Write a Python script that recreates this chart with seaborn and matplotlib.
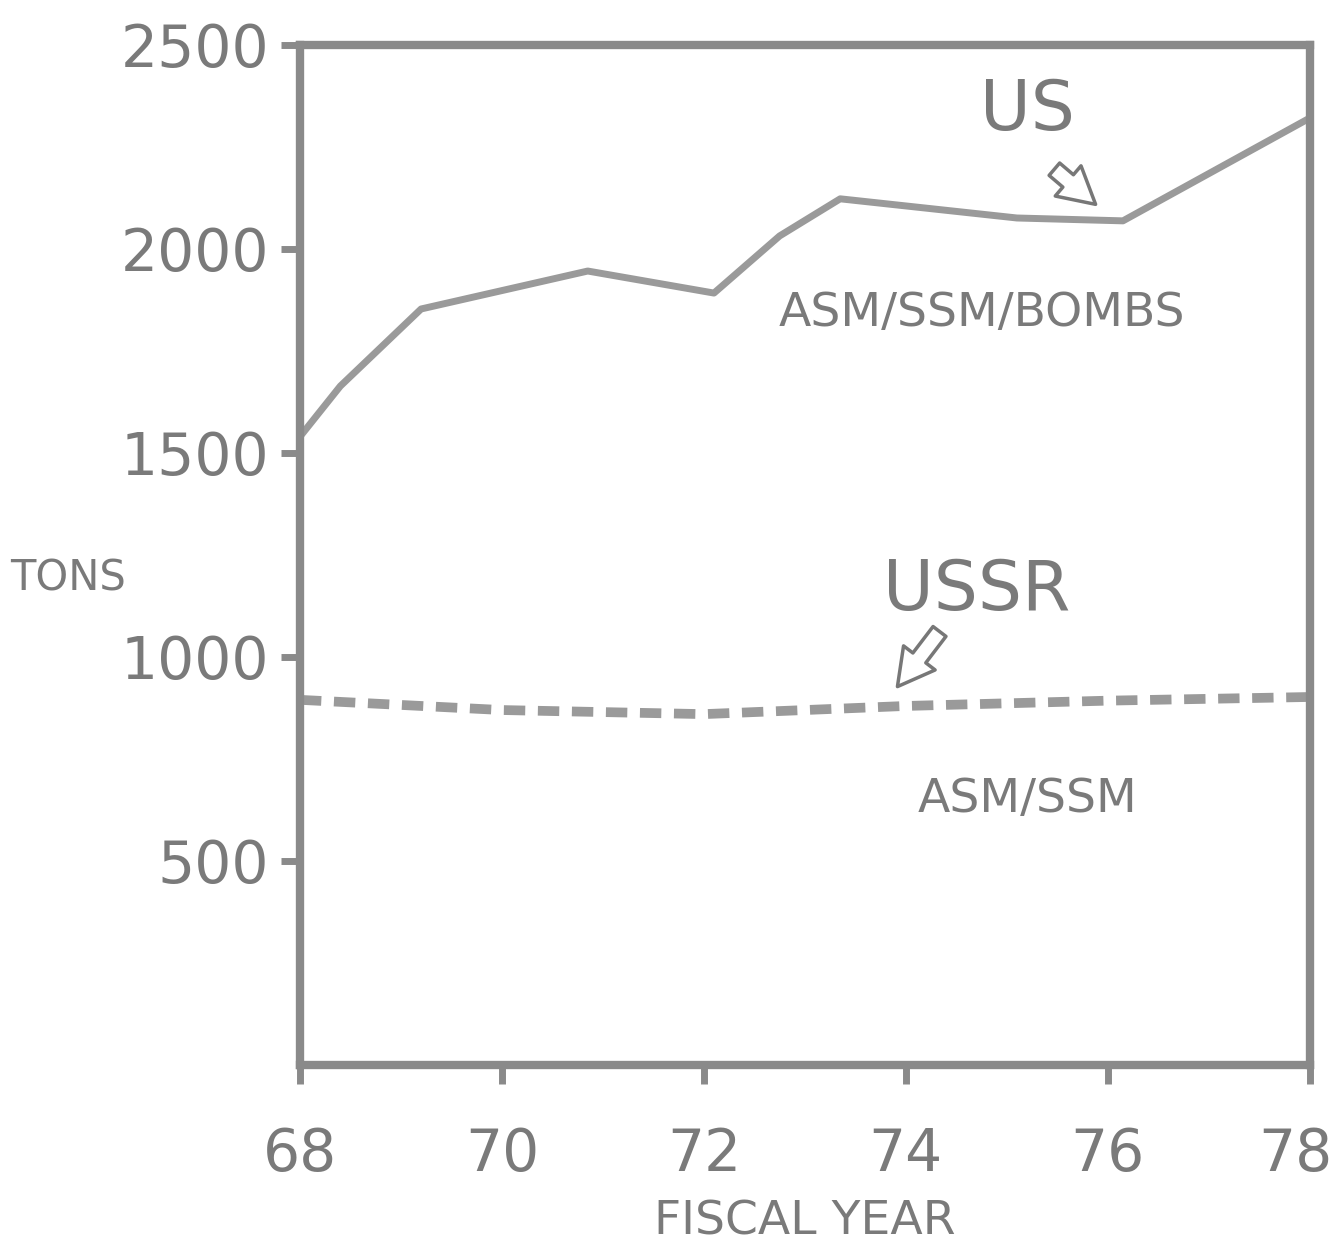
import matplotlib
matplotlib.use("Agg")
import matplotlib.pyplot as plt
import matplotlib.transforms as mtransforms
import numpy as np
import pandas as pd
import seaborn as sns

# values
us_years = [68.0, 68.4, 69.2, 70.85, 72.1, 72.75, 73.35, 75.1, 76.15, 78.0]
us_tons = [1540, 1664, 1853, 1946, 1892, 2032, 2123, 2076, 2069, 2321]
ussr_years = [68, 70, 72, 74, 76, 78]
ussr_tons = [895, 870, 860, 880, 893, 902]
x_ticks = [68, 70, 72, 74, 76, 78]
y_ticks = [500, 1000, 1500, 2000, 2500]

sns.set_style("white")
plt.rcParams['font.family'] = ['DejaVu Sans']

ink = '#7a7a7a'
fig = plt.figure(figsize=(13.42, 12.5), dpi=100)
ax = fig.add_axes([0.2235, 0.148, 0.7525, 0.816])

us = pd.DataFrame({'year': us_years, 'tons': us_tons})
ussr = pd.DataFrame({'year': ussr_years, 'tons': ussr_tons})
sns.lineplot(data=us, x='year', y='tons', ax=ax, color='#9a9a9a', linewidth=5)
sns.lineplot(data=ussr, x='year', y='tons', ax=ax, color='#9a9a9a', linewidth=7,
             linestyle=(0, (2.2, 1.3)))

ax.set_xlim(68, 78)
ax.set_ylim(0, 2500)
ax.set_xticks(x_ticks)
ax.set_xticklabels([str(t) for t in x_ticks])
ax.set_yticks(y_ticks)
ax.set_yticklabels([str(t) for t in y_ticks])
ax.tick_params(axis='both', colors='#8a8a8a', labelcolor=ink, length=14, width=5,
               direction='out', left=True, bottom=True)
ax.tick_params(axis='x', labelsize=42, pad=30)
ax.tick_params(axis='y', labelsize=42, pad=8)
for s in ax.spines.values():
    s.set_color('#8a8a8a')
    s.set_linewidth(6)

# last year label sits a little left of its tick, as on the original
last = ax.get_xticklabels()[-1]
last.set_transform(last.get_transform() +
                   mtransforms.ScaledTranslation(-14 / 100, 0, fig.dpi_scale_trans))

ax.set_xlabel('FISCAL YEAR', fontsize=34, color=ink, labelpad=12)
ax.set_ylabel('')
fig.text(0.051, 0.537, 'TONS', fontsize=30, color=ink, ha='center', va='center')

arrow = 'simple,head_width=1.1,head_length=1.0,tail_width=0.45'
ax.text(75.2, 2340, 'US', fontsize=50, color=ink, ha='center', va='center')
ax.annotate('', xy=(75.9, 2105), xytext=(75.45, 2200),
            arrowprops=dict(arrowstyle=arrow, mutation_scale=26,
                            fc='white', ec='#777777', lw=2.5))
ax.text(74.75, 1843, 'ASM/SSM/BOMBS', fontsize=34, color=ink, ha='center', va='center')
ax.text(74.7, 1164, 'USSR', fontsize=50, color=ink, ha='center', va='center')
ax.annotate('', xy=(73.9, 922), xytext=(74.35, 1068),
            arrowprops=dict(arrowstyle=arrow, mutation_scale=26,
                            fc='white', ec='#777777', lw=2.5))
ax.text(75.2, 650, 'ASM/SSM', fontsize=34, color=ink, ha='center', va='center')

fig.savefig('out.png', dpi=100, facecolor='white')
